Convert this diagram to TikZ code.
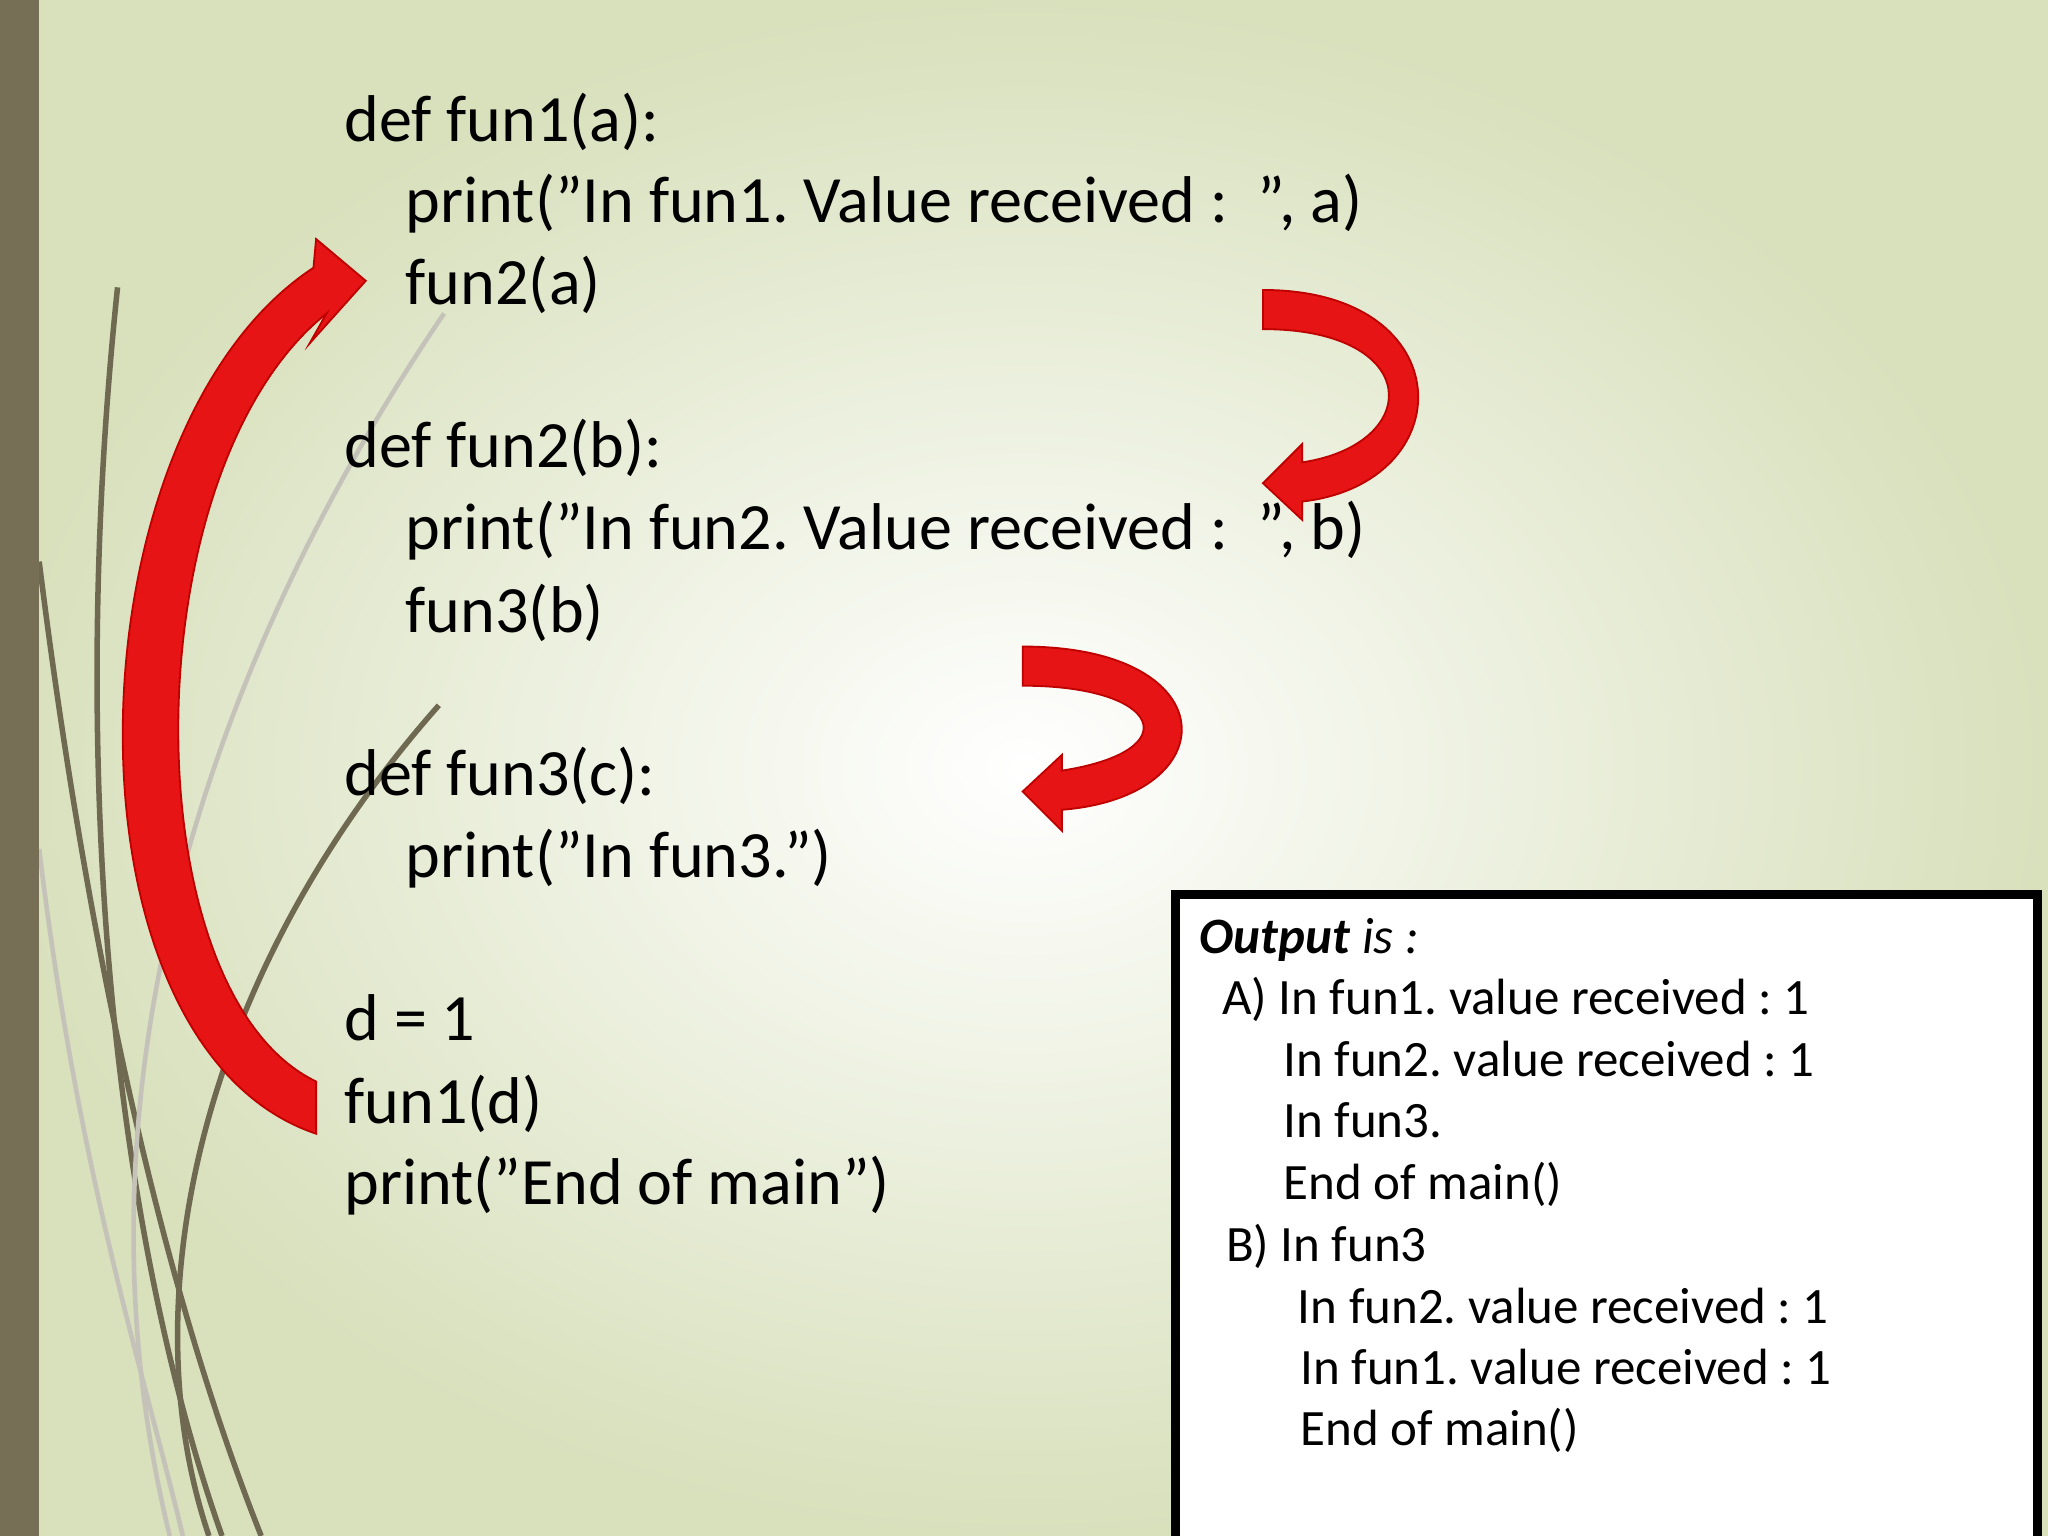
\documentclass[tikz,border=0pt]{standalone}
\usepackage{fontspec}
\setmainfont{Carlito}
\frenchspacing
\newcommand{\dq}{\symbol{34}}
\definecolor{bar}{RGB}{118,111,85}
\definecolor{bgg}{RGB}{216,224,188}
\definecolor{arr}{RGB}{230,20,20}
\definecolor{arrd}{RGB}{190,0,0}
\definecolor{stem}{RGB}{110,105,80}
\tikzset{code/.style={anchor=base west,font=\fontsize{14.4pt}{17pt}\selectfont,inner sep=0pt},
outtext/.style={anchor=base west,font=\fontsize{11.1pt}{13pt}\selectfont,inner sep=0pt},
redarrow/.style={fill=arr,draw=arrd,line width=0.4pt},
stemline/.style={draw=stem,line width=1.2pt}}
\begin{document}
\begin{tikzpicture}[x=0.01cm,y=-0.01cm]
\useasboundingbox (0,0) rectangle (1568,1176);
\shade[inner color=white,outer color=bgg] (0,0) rectangle (1568,1176);
\draw[stemline] (90,220) .. controls (50,600) and (90,950) .. (170,1176);
\draw[stemline] (30,430) .. controls (70,750) and (130,1000) .. (200,1176);
\draw[stemline] (336,540) .. controls (150,750) and (100,1000) .. (160,1176);
\draw[draw=stem!40,line width=1pt] (340,240) .. controls (150,520) and (50,850) .. (130,1176);
\draw[draw=stem!40,line width=1pt] (30,650) .. controls (60,900) and (110,1050) .. (140,1176);
\fill[bar] (0,0) rectangle (30,1176);
\node[code] (l1) at (263,108) {def fun1(a):};
\node[code] (l2) at (310,170) {print(\dq In fun1. Value received :~~\dq, a)};
\node[code] (l3) at (310,233) {fun2(a)};
\node[code] (l4) at (263,358) {def fun2(b):};
\node[code] (l5) at (310,421) {print(\dq In fun2. Value received :~~\dq, b)};
\node[code] (l6) at (310,484) {fun3(b)};
\node[code] (l7) at (263,609) {def fun3(c):};
\node[code] (l8) at (310,672) {print(\dq In fun3.\dq)};
\node[code] (l9) at (263,797) {d = 1};
\node[code] (l10) at (263,860) {fun1(d)};
\node[code] (l11) at (263,922) {print(\dq End of main\dq)};
\path[redarrow] (242,868) .. controls (40,800) and (50,330) .. (240,205)
  -- (242,183) -- (280,215) -- (237,263) -- (250,240)
  .. controls (100,360) and (100,760) .. (242,828) -- cycle;
\path[redarrow] (967,222) .. controls (1120,222) and (1120,370) .. (997,384)
  -- (997,398) -- (967,370) -- (997,340) -- (997,354)
  .. controls (1090,340) and (1090,252) .. (967,252) -- cycle;
\path[redarrow] (783,495) .. controls (940,495) and (940,610) .. (813,620)
  -- (813,636) -- (783,606) -- (813,578) -- (813,590)
  .. controls (910,575) and (890,525) .. (783,525) -- cycle;
\fill[white] (900,685) rectangle (1560,1176);
\draw[line width=2pt] (900,1176) -- (900,685) -- (1560,685) -- (1560,1176);
\node[outtext] (o0) at (918,730) {\textbf{\textit{Output}} \textit{is :}};
\node[outtext] (o1) at (935,777) {A) In fun1. value received : 1};
\node[outtext] (o2) at (982,824) {In fun2. value received : 1};
\node[outtext] (o3) at (982,871) {In fun3.};
\node[outtext] (o4) at (982,918) {End of main()};
\node[outtext] (o5) at (938,966) {B) In fun3};
\node[outtext] (o6) at (993,1013) {In fun2. value received : 1};
\node[outtext] (o7) at (995,1060) {In fun1. value received : 1};
\node[outtext] (o8) at (995,1107) {End of main()};
\end{tikzpicture}
\end{document}
